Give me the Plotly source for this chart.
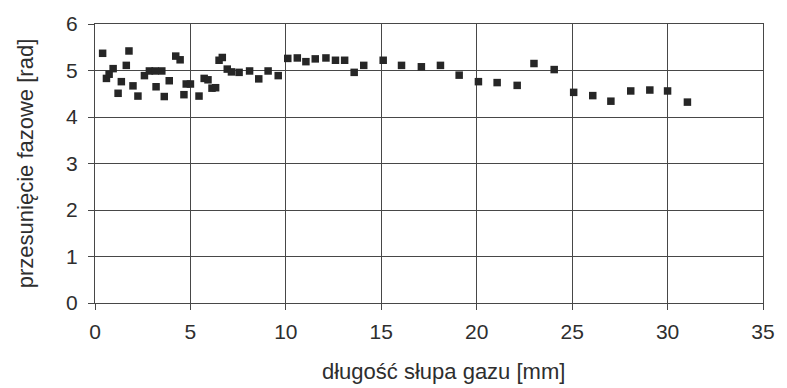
import plotly.graph_objects as go

# długość słupa gazu [mm]
x_mm = [0.40, 0.60, 0.74, 0.95, 1.21, 1.38, 1.64, 1.78, 1.99, 2.25,
        2.59, 2.85, 3.15, 3.20, 3.50, 3.63, 3.89, 4.23, 4.46, 4.66,
        4.78, 5.00, 5.45, 5.72, 5.92, 6.13, 6.32, 6.50, 6.67, 6.93,
        7.15, 7.55, 8.10, 8.58, 9.07, 9.60, 10.10, 10.60, 11.05, 11.54,
        12.10, 12.60, 13.08, 13.58, 14.08, 15.10, 16.06, 17.10, 18.10, 19.08,
        20.09, 21.07, 22.12, 23.00, 24.06, 25.08, 26.08, 27.03, 28.07, 29.07,
        30.00, 31.04]
# przesunięcie fazowe [rad]
phase = [5.37, 4.83, 4.92, 5.04, 4.51, 4.76, 5.11, 5.42, 4.67, 4.45,
         4.89, 4.99, 4.99, 4.65, 4.99, 4.44, 4.78, 5.31, 5.23, 4.48,
         4.71, 4.71, 4.45, 4.83, 4.80, 4.62, 4.63, 5.22, 5.28, 5.03,
         4.97, 4.96, 4.99, 4.82, 4.99, 4.89, 5.26, 5.27, 5.19, 5.25,
         5.27, 5.22, 5.22, 4.96, 5.11, 5.22, 5.11, 5.08, 5.11, 4.90,
         4.76, 4.74, 4.68, 5.15, 5.02, 4.53, 4.46, 4.34, 4.56, 4.58,
         4.56, 4.32]

x_ticks = [0, 5, 10, 15, 20, 25, 30, 35]
y_ticks = [0, 1, 2, 3, 4, 5, 6]

FONT = "Liberation Sans, Arial, sans-serif"
TXT = "#2e2e2e"
GRID = "#474747"

fig = go.Figure()
fig.add_trace(go.Scatter(
    x=x_mm, y=phase, mode="markers",
    marker=dict(symbol="square", size=7.5, color="#262626", line=dict(width=0)),
    showlegend=False,
))

fig.update_layout(
    width=787, height=388,
    margin=dict(l=95, r=16, t=20, b=85),
    paper_bgcolor="white", plot_bgcolor="white",
    font=dict(family=FONT, color=TXT, size=21),
    annotations=[dict(
        text="długość słupa gazu [mm]", xref="paper", yref="paper",
        x=0.521, y=-0.244, xanchor="center", yanchor="middle",
        showarrow=False, font=dict(size=22, family=FONT, color=TXT),
    )],
)
fig.update_xaxes(
    range=[0, 35], tickvals=x_ticks, ticktext=[str(v) for v in x_ticks],
    showgrid=True, gridcolor=GRID, gridwidth=1.4,
    showline=True, linecolor=GRID, linewidth=1.4, mirror=True,
    ticks="outside", ticklen=6, tickcolor=GRID, ticklabelstandoff=4,
    zeroline=False,
)
fig.update_yaxes(
    range=[0, 6], tickvals=y_ticks, ticktext=[str(v) for v in y_ticks],
    showgrid=True, gridcolor=GRID, gridwidth=1.4,
    showline=True, linecolor=GRID, linewidth=1.4, mirror=True,
    ticks="outside", ticklen=6, tickcolor=GRID, ticklabelstandoff=6,
    zeroline=False,
    title=dict(text="przesunięcie fazowe [rad]", font=dict(size=22, family=FONT, color=TXT), standoff=26),
)

fig.write_html("out.html")
